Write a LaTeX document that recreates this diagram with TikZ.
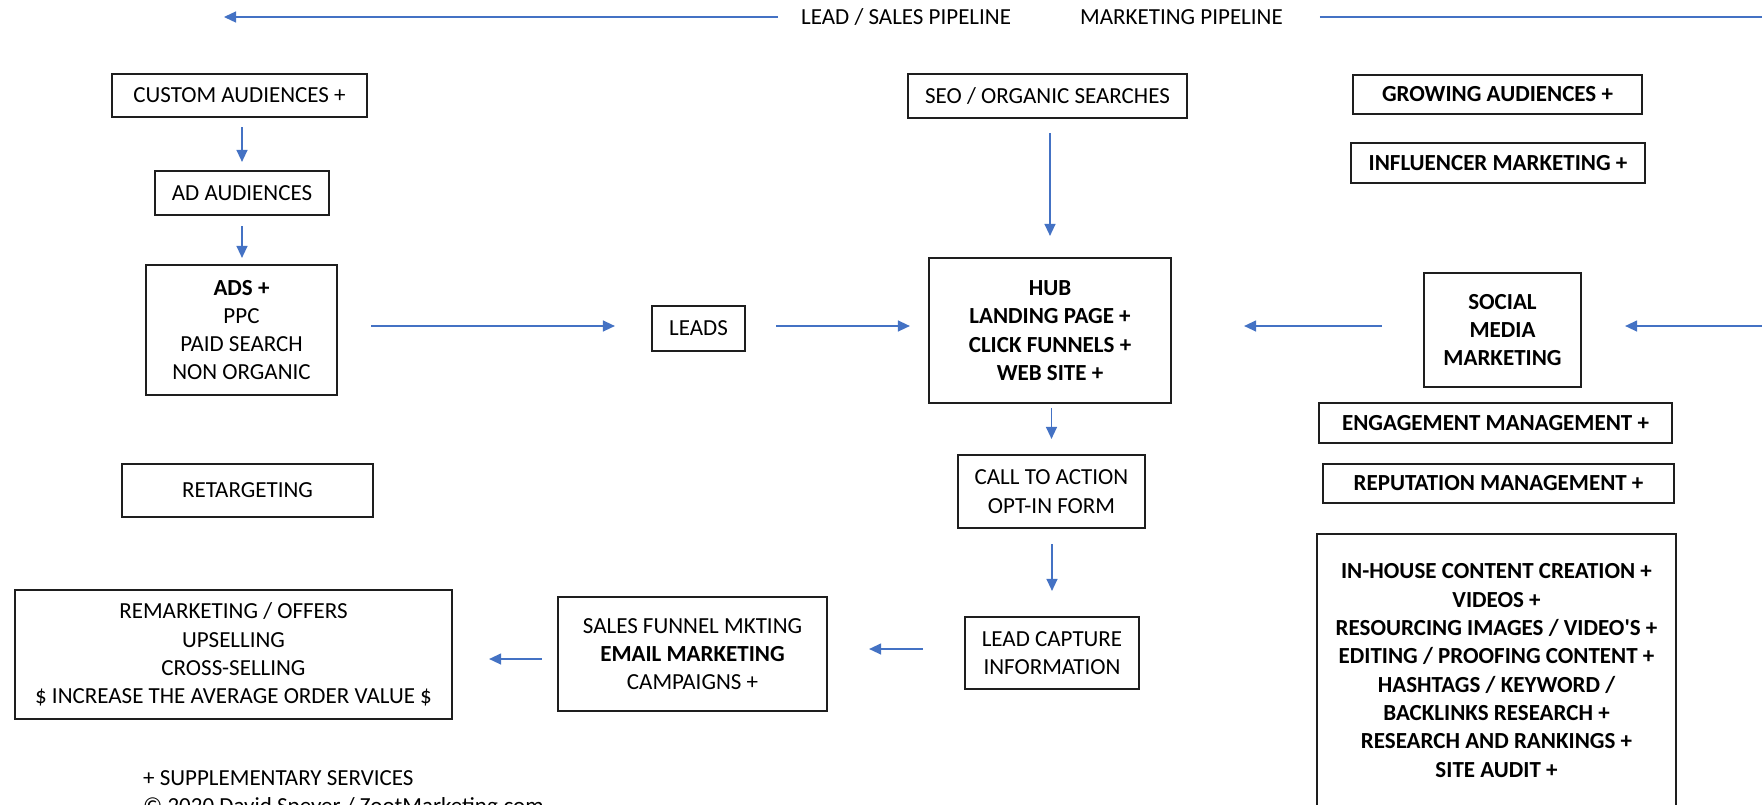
\documentclass[tikz,border=0pt]{standalone}
\usepackage{fontspec}
\setmainfont{Carlito}
\usetikzlibrary{arrows.meta}
\definecolor{arrowblue}{RGB}{68,114,196}
\definecolor{boxline}{RGB}{30,30,30}
\tikzset{
  txt/.style={font=\fontsize{23}{28.3}\selectfont, text=black, inner sep=0pt},
  box/.style={txt, draw=boxline, line width=2.2pt, align=center},
  bbox/.style={box, font=\fontsize{23}{28.3}\selectfont\bfseries},
  conn/.style={draw=arrowblue, line width=1.3pt, -{Triangle[length=12pt,width=11pt]}},
  plainline/.style={draw=arrowblue, line width=1.3pt}
}
\begin{document}
\begin{tikzpicture}[x=1pt,y=-1pt]
\useasboundingbox (0,0) rectangle (1762,804);
\clip (0,0) rectangle (1762,804);
\fill[white] (0,0) rectangle (1762,804);

% top labels
\node[txt, anchor=base west] (leadlbl) at (801,24.4) {LEAD / SALES PIPELINE};
\node[txt, anchor=base west] (mktlbl) at (1080,24.4) {MARKETING PIPELINE};
\coordinate (leftend) at (224,17);
\coordinate (rightend) at (1762,17);
\draw[conn, shorten <=23pt] (leftend -| leadlbl.west) -- (leftend);
\draw[plainline, shorten <=37pt] (rightend -| mktlbl.east) -- (rightend);

% left column
\node[box, minimum width=255pt, minimum height=43pt] (custom) at (239.5,95.5) {CUSTOM AUDIENCES +};
\node[box, minimum width=174pt, minimum height=44pt] (adaud) at (242,193) {AD AUDIENCES};
\node[box, minimum width=191pt, minimum height=130pt] (ads) at (241.5,330) {{\bfseries ADS +}\\PPC\\PAID SEARCH\\NON ORGANIC};
\node[box, minimum width=251pt, minimum height=53pt] (retarg) at (247.5,490.5) {RETARGETING};
\node[box, minimum width=437pt, minimum height=129pt] (remark) at (233.5,654.5) {REMARKETING / OFFERS\\UPSELLING\\CROSS-SELLING\\\$ INCREASE THE AVERAGE ORDER VALUE \$};

% middle
\node[box, minimum width=93pt, minimum height=45pt] (leads) at (698.5,328.5) {LEADS};
\node[box, minimum width=279pt, minimum height=44pt] (seo) at (1047.5,96) {SEO / ORGANIC SEARCHES};
\node[bbox, minimum width=242pt, minimum height=145pt] (hub) at (1050,330.5) {HUB\\LANDING PAGE +\\CLICK FUNNELS +\\WEB SITE +};
\node[box, minimum width=187pt, minimum height=73pt] (cta) at (1051.5,491.5) {CALL TO ACTION\\OPT-IN FORM};
\node[box, minimum width=174pt, minimum height=72pt] (leadcap) at (1052,653) {LEAD CAPTURE\\INFORMATION};
\node[box, minimum width=269pt, minimum height=114pt] (sales) at (692.5,654) {SALES FUNNEL MKTING\\{\bfseries EMAIL MARKETING}\\CAMPAIGNS +};

% right column
\node[bbox, minimum width=289pt, minimum height=39pt] (growing) at (1497.5,94.5) {GROWING AUDIENCES +};
\node[bbox, minimum width=294pt, minimum height=40pt] (influencer) at (1498,163) {INFLUENCER MARKETING +};
\node[bbox, minimum width=157pt, minimum height=114pt] (social) at (1502.5,330) {SOCIAL\\MEDIA\\MARKETING};
\node[bbox, minimum width=353pt, minimum height=40pt] (engage) at (1495.5,423) {ENGAGEMENT MANAGEMENT +};
\node[bbox, minimum width=351pt, minimum height=39pt] (reput) at (1498.5,483.5) {REPUTATION MANAGEMENT +};
\node[bbox, minimum width=359pt, minimum height=273pt] (inhouse) at (1496.5,670.5) {IN-HOUSE CONTENT CREATION +\\VIDEOS +\\RESOURCING IMAGES / VIDEO\textquotesingle S +\\EDITING / PROOFING CONTENT +\\HASHTAGS / KEYWORD /\\BACKLINKS RESEARCH +\\RESEARCH AND RANKINGS +\\SITE AUDIT +};

% footer
\node[txt, anchor=base west] (supp) at (143,785.5) {+ SUPPLEMENTARY SERVICES};
\node[txt, anchor=base west] (copyr) at (143,813.5) {© 2020 David Speyer / ZootMarketing.com};

% connectors
\draw[conn, shorten <=9pt, shorten >=8pt] (custom.south -| adaud.north) -- (adaud.north);
\draw[conn, shorten <=10pt, shorten >=6pt] (adaud.south) -- (ads.north -| adaud.south);
\draw[conn, shorten <=33pt, shorten >=36pt] ([yshift=4pt]ads.east) -- ([yshift=4pt]ads.east -| leads.west);
\draw[conn, shorten <=30pt, shorten >=18pt] ([yshift=2.5pt]leads.east) -- ([yshift=2.5pt]leads.east -| hub.west);
\draw[conn, shorten <=14pt, shorten >=21pt] (seo.south -| hub.north) -- (hub.north);
\draw[conn, shorten <=41pt, shorten >=72pt] ([yshift=4pt]social.west) -- ([yshift=4pt]social.west -| hub.east);
\coordinate (rightin) at (1762,326);
\draw[conn, shorten >=43pt] (rightin) -- (rightin -| social.east);
\draw[conn, shorten <=4pt, shorten >=15pt] (hub.south -| cta.north) -- (cta.north);
\draw[conn, shorten <=15pt, shorten >=25pt] (cta.south -| leadcap.north) -- (leadcap.north);
\draw[conn, shorten <=41pt, shorten >=41pt] ([yshift=4pt]leadcap.west) -- ([yshift=4pt]leadcap.west -| sales.east);
\draw[conn, shorten <=15pt, shorten >=36pt] ([yshift=-5pt]sales.west) -- ([yshift=-5pt]sales.west -| remark.east);
\end{tikzpicture}
\end{document}
